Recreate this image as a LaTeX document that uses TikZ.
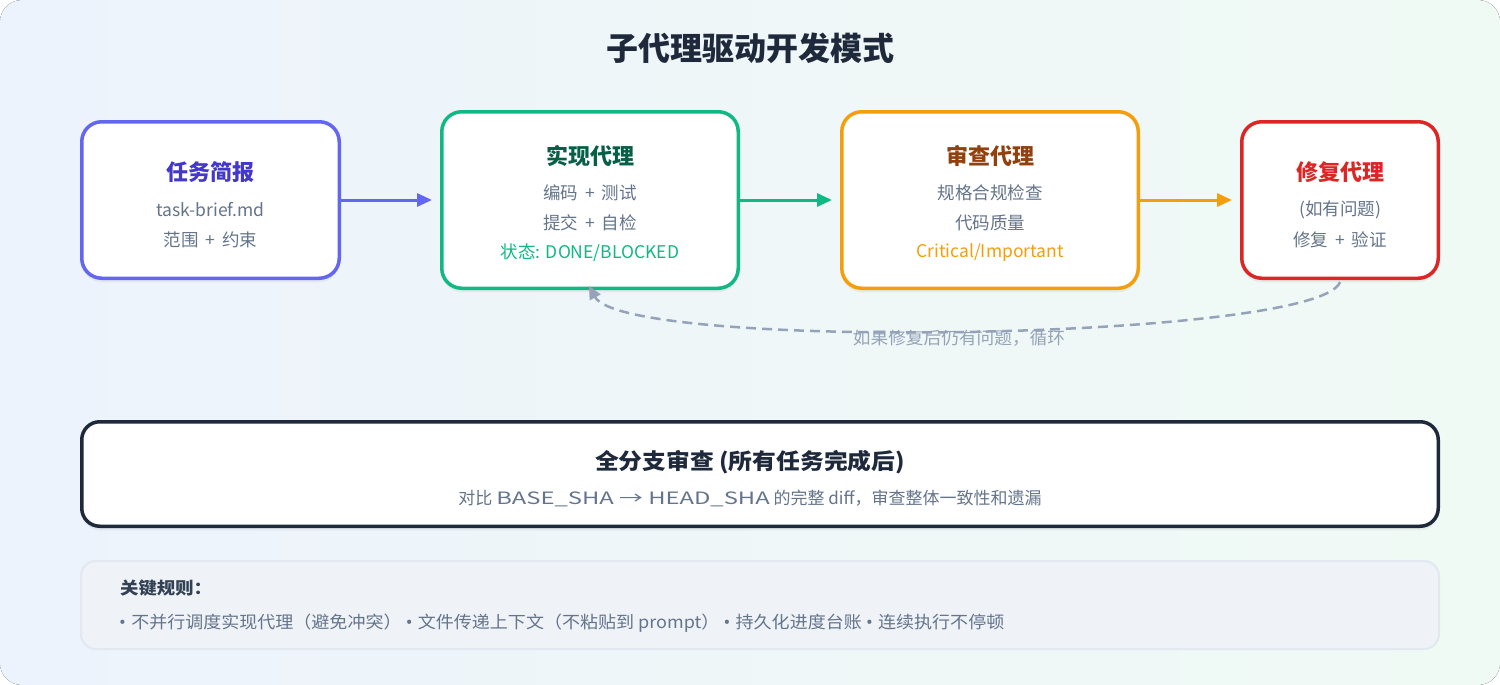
\documentclass[tikz,border=0pt]{standalone}
\usepackage{fontspec}
\usepackage{graphicx}
\setmainfont{Noto Sans CJK SC}
\newfontfamily\latinfont{Noto Sans}
\usetikzlibrary{arrows.meta,shadows}
\definecolor{bgA}{HTML}{EDF3FC}
\definecolor{bgB}{HTML}{F0FAF4}
\definecolor{ink}{HTML}{1E293B}
\definecolor{subg}{HTML}{64748B}
\definecolor{loopg}{HTML}{94A3B8}
\definecolor{cIndigo}{HTML}{6366F1}
\definecolor{cIndigoD}{HTML}{4338CA}
\definecolor{cGreen}{HTML}{10B981}
\definecolor{cGreenD}{HTML}{065F46}
\definecolor{cOrange}{HTML}{F59E0B}
\definecolor{cOrangeD}{HTML}{92400E}
\definecolor{cRed}{HTML}{DC2626}
\definecolor{ruleFill}{HTML}{EFF3F8}
\definecolor{ruleLine}{HTML}{E2E8F0}
\definecolor{ruleHead}{HTML}{334155}
\newcommand{\plusgap}{\hspace{7pt}+\hspace{7pt}}
\newcommand{\sx}[2]{\scalebox{#1}[1]{#2}}
\newcommand{\bul}{{\latinfont •}\hspace{5pt}}
\tikzset{
  agentbox/.style={draw, fill=white, line width=3.5pt, rounded corners=20pt,
    inner sep=0pt, drop shadow={opacity=0.10, shadow xshift=0pt, shadow yshift=-4pt}},
  boxtitle/.style={font=\fontsize{22}{26}\selectfont\bfseries, inner sep=0pt},
  boxline/.style={font=\fontsize{17.5}{21}\selectfont, text=subg, inner sep=0pt},
  flowarrow/.style={line width=3pt, -{Triangle[length=15pt,width=13pt]}, shorten >=8pt},
}
\begin{document}
\begin{tikzpicture}[x=1pt,y=-1pt]
\useasboundingbox (0,0) rectangle (1500,685);
\fill[white] (0,0) rectangle (1500,685);
\fill[left color=bgA, right color=bgB, rounded corners=22pt] (0,0) rectangle (1500,685);

\node[font=\fontsize{32}{38}\selectfont\bfseries, text=ink, inner sep=0pt] (title) at (750,48) {子代理驱动开发模式};

% boxes
\node[agentbox, draw=cIndigo, minimum width=257.5pt, minimum height=156.5pt] (b1) at (210.5,200) {};
\node[agentbox, draw=cGreen, minimum width=296.5pt, minimum height=176.5pt] (b2) at (590,200) {};
\node[agentbox, draw=cOrange, minimum width=296.5pt, minimum height=176.5pt] (b3) at (990,200) {};
\node[agentbox, draw=cRed, minimum width=196.5pt, minimum height=156.5pt] (b4) at (1340,200) {};

% box 1 text
\node[boxtitle, text=cIndigoD] (t1) at (210.5,172) {任务简报};
\node[boxline] (t1a) at (210.5,210) {task-brief.md};
\node[boxline] (t1b) at (210.5,240) {范围\plusgap 约束};

% box 2 text
\node[boxtitle, text=cGreenD] (t2) at (590,156) {实现代理};
\node[boxline] (t2a) at (590,193) {编码\plusgap 测试};
\node[boxline] (t2b) at (590,223) {提交\plusgap 自检};
\node[boxline, text=cGreen] (t2c) at (590,253) {状态: DONE/BLOCKED};

% box 3 text
\node[boxtitle, text=cOrangeD] (t3) at (990,156) {审查代理};
\node[boxline] (t3a) at (990,193) {规格合规检查};
\node[boxline] (t3b) at (990,223) {代码质量};
\node[boxline, text=cOrange] (t3c) at (990,253) {Critical/Important};

% box 4 text
\node[boxtitle, text=cRed] (t4) at (1340,172) {修复代理};
\node[boxline] (t4a) at (1340,210) {(如有问题)};
\node[boxline] (t4b) at (1340,240) {修复\plusgap 验证};

% flow arrows
\draw[flowarrow, cIndigo] (b1.east) -- (b2.west);
\draw[flowarrow, cGreen] (b2.east) -- (b3.west);
\draw[flowarrow, cOrange] (b3.east) -- (b4.west);

% loop back
\coordinate (loopS) at (1340,282);
\coordinate (loopE) at (589,286);
\draw[loopg, line width=2.5pt, dash pattern=on 10pt off 6pt,
  -{Triangle[length=13pt,width=12pt]}]
  (loopS) .. controls (1320,340) and (625,352) .. (loopE);
\node[font=\fontsize{17}{20}\selectfont, text=loopg, inner sep=0pt] (looplbl) at (959,338) {\sx{1.04}{如果修复后仍有问题，循环}};

% full branch review
\node[agentbox, draw=ink, rounded corners=18pt, minimum width=1356.5pt, minimum height=104.5pt] (rev) at (760,474) {};
\node[boxtitle, text=ink] (revt) at (750,462) {\sx{1.08}{全分支审查 (所有任务完成后)}};
\node[boxline, font=\fontsize{17}{20}\selectfont] (revs) at (750,498) {对比 \sx{1.4}{BASE\_SHA → HEAD\_SHA} 的完整 diff，审查整体一致性和遗漏};

% rules
\node[draw=ruleLine, fill=ruleFill, line width=2pt, rounded corners=15pt, inner sep=0pt,
  minimum width=1358pt, minimum height=88pt] (rules) at (760,605) {};
\node[anchor=west, font=\fontsize{17}{20}\selectfont\bfseries, text=ruleHead, inner sep=0pt] (rulesh) at (120,588) {\sx{1.08}{关键规则：}};
\node[anchor=west, font=\fontsize{17}{20}\selectfont, text=subg, inner sep=0pt] (rulest) at (119,623) {\sx{1.06}{\bul 不并行调度实现代理（避免冲突）\hspace{4pt}\bul 文件传递上下文（不粘贴到 prompt）\hspace{4pt}\bul 持久化进度台账\hspace{4pt}\bul 连续执行不停顿}};
\end{tikzpicture}
\end{document}
